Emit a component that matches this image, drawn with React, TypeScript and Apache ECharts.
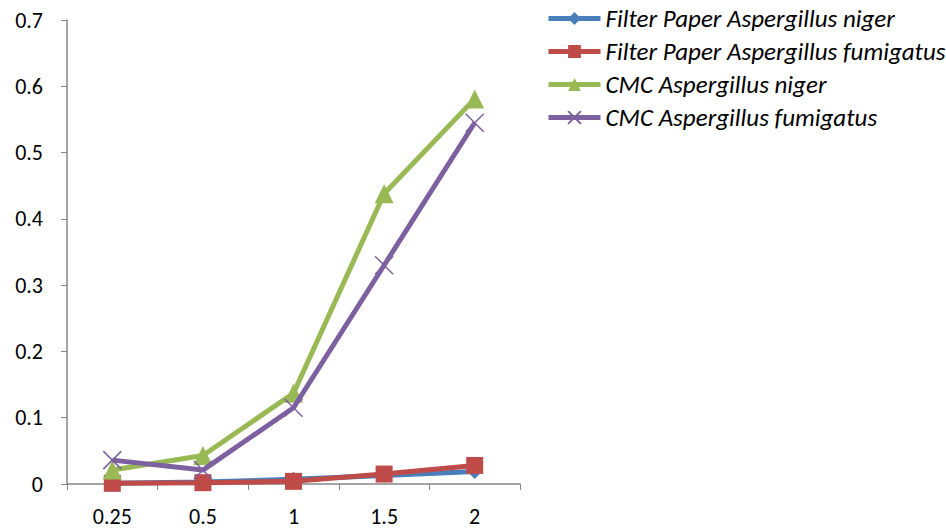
import React, { useEffect, useRef } from "react";
import * as echarts from "echarts";

const categories = ["0.25", "0.5", "1", "1.5", "2"];
const seriesNames = [
  "Filter Paper Aspergillus niger",
  "Filter Paper Aspergillus fumigatus",
  "CMC Aspergillus niger",
  "CMC Aspergillus fumigatus",
];
const fpNiger = [0.001, 0.003, 0.007, 0.013, 0.019];
const fpFumigatus = [0.001, 0.002, 0.004, 0.015, 0.028];
const cmcNiger = [0.021, 0.043, 0.137, 0.438, 0.581];
const cmcFumigatus = [0.036, 0.021, 0.115, 0.33, 0.545];
const colors = ["#4A7EBB", "#BE4B48", "#98B954", "#7D60A0"];

const FONT = "Carlito, 'Liberation Sans', sans-serif";

export default function App() {
  const ref = useRef<HTMLDivElement>(null);
  useEffect(() => {
    document.body.style.margin = "0";
    document.body.style.overflow = "hidden";
    if (!ref.current) return;
    const chart = echarts.init(ref.current, undefined, { renderer: "svg" });
    const mk = (i: number, data: number[], symbol: string, size: number, extra: any = {}) => ({
      name: seriesNames[i],
      type: "line",
      data,
      symbol,
      symbolSize: size,
      showAllSymbol: true,
      lineStyle: { color: colors[i], width: 5 },
      itemStyle: { color: colors[i], ...extra },
      z: 2 + i,
    });
    chart.setOption({
      animation: false,
      color: colors,
      grid: { left: 67, right: 426, top: 20, bottom: 45, containLabel: false },
      legend: {
        orient: "vertical",
        left: 546,
        top: 6,
        padding: 0,
        itemWidth: 52,
        itemHeight: 16,
        itemGap: 8,
        lineStyle: { width: 5 },
        textStyle: { fontFamily: FONT, fontStyle: "italic", fontSize: 25, lineHeight: 25, color: "#000" },
        data: seriesNames,
      },
      xAxis: {
        type: "category",
        data: categories,
        boundaryGap: true,
        axisLine: { lineStyle: { color: "#868686", width: 1.5 } },
        axisTick: { show: true, length: 6, lineStyle: { color: "#868686" } },
        axisLabel: { fontFamily: FONT, fontSize: 22, color: "#000", margin: 21 },
      },
      yAxis: {
        type: "value",
        min: 0,
        max: 0.7,
        interval: 0.1,
        axisLine: { show: true, lineStyle: { color: "#868686", width: 1.5 } },
        axisTick: { show: true, length: 6, lineStyle: { color: "#868686" } },
        splitLine: { show: false },
        axisLabel: { fontFamily: FONT, fontSize: 22, color: "#000", margin: 24 },
      },
      series: [
        mk(0, fpNiger, "diamond", 15),
        mk(1, fpFumigatus, "rect", 17),
        mk(2, cmcNiger, "triangle", 19),
        mk(3, cmcFumigatus, "path://M0,0L10,10M10,0L0,10", 18, {
          color: "none",
          borderColor: colors[3],
          borderWidth: 1.5,
        }),
      ],
    });
    return () => chart.dispose();
  }, []);
  return <div ref={ref} style={{ width: 946, height: 529 }} />;
}
